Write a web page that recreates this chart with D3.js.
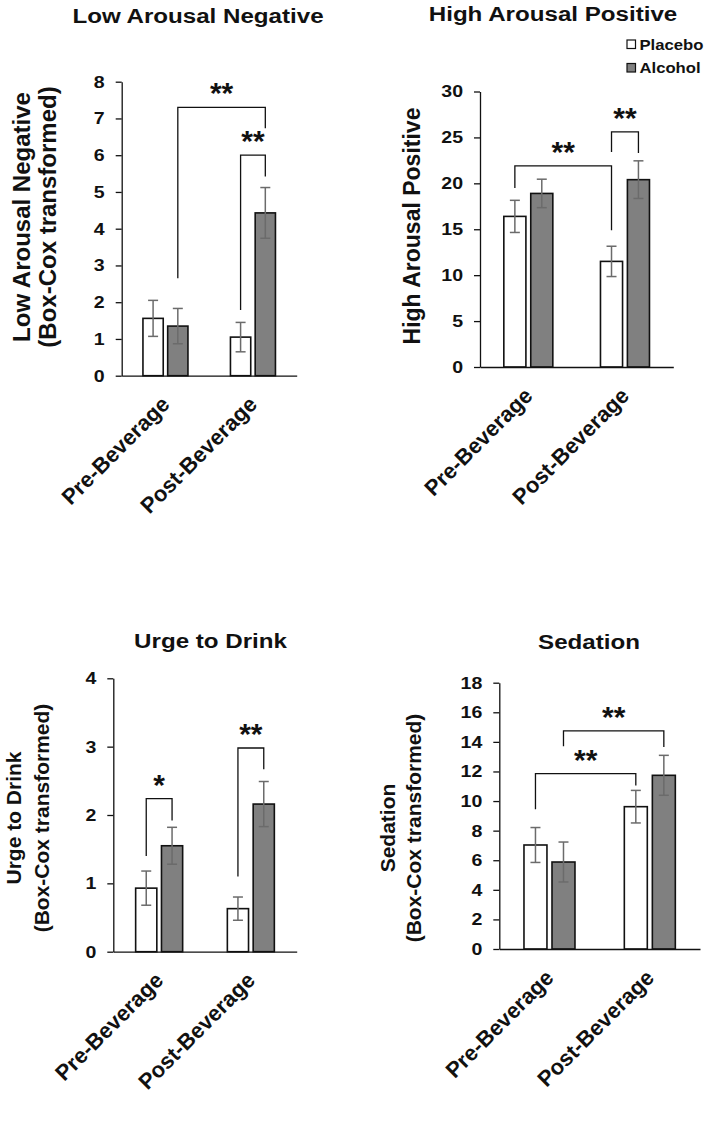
<!DOCTYPE html>
<html><head><meta charset="utf-8">
<script src="https://cdn.jsdelivr.net/npm/d3@7"></script>
<style>
body{margin:0;background:#fff;}
svg{display:block;font-family:"Liberation Sans",Arial,sans-serif;font-weight:bold;}
</style></head><body>
<svg id="chart" width="709" height="1147"></svg>
<script>
// ---------- DATA ----------
const categories = ["Pre-Beverage", "Post-Beverage"];
const conditions = ["Placebo", "Alcohol"];

// Low Arousal Negative (Box-Cox transformed)
const lanPlacebo = [1.56, 1.05];
const lanPlaceboErr = [0.49, 0.40];
const lanAlcohol = [1.35, 4.43];
const lanAlcoholErr = [0.48, 0.69];
const lanTicks = [0, 1, 2, 3, 4, 5, 6, 7, 8];
const lanSig = [
  {from: ["Pre-Beverage", "Alcohol"], to: ["Post-Beverage", "Alcohol"], top: 7.3, left: 2.65, right: 6.73, label: "**"},
  {from: ["Post-Beverage", "Placebo"], to: ["Post-Beverage", "Alcohol"], top: 6.0, left: 1.79, right: 5.42, label: "**"}
];

// High Arousal Positive
const hapPlacebo = [16.4, 11.5];
const hapPlaceboErr = [1.75, 1.65];
const hapAlcohol = [18.9, 20.4];
const hapAlcoholErr = [1.55, 2.05];
const hapTicks = [0, 5, 10, 15, 20, 25, 30];
const hapSig = [
  {from: ["Pre-Beverage", "Placebo"], to: ["Post-Beverage", "Placebo"], top: 21.9, left: 19.5, right: 14.9, label: "**"},
  {from: ["Post-Beverage", "Placebo"], to: ["Post-Beverage", "Alcohol"], top: 25.6, left: 23.4, right: 23.3, label: "**"}
];

// Urge to Drink (Box-Cox transformed)
const urgePlacebo = [0.93, 0.63];
const urgePlaceboErr = [0.25, 0.17];
const urgeAlcohol = [1.55, 2.16];
const urgeAlcoholErr = [0.27, 0.33];
const urgeTicks = [0, 1, 2, 3, 4];
const urgeSig = [
  {from: ["Pre-Beverage", "Placebo"], to: ["Pre-Beverage", "Alcohol"], top: 2.24, left: 1.40, right: 1.92, label: "*"},
  {from: ["Post-Beverage", "Placebo"], to: ["Post-Beverage", "Alcohol"], top: 2.98, left: 1.10, right: 2.67, label: "**"}
];

// Sedation (Box-Cox transformed)
const sedPlacebo = [7.03, 9.62];
const sedPlaceboErr = [1.18, 1.10];
const sedAlcohol = [5.88, 11.74];
const sedAlcoholErr = [1.35, 1.35];
const sedTicks = [0, 2, 4, 6, 8, 10, 12, 14, 16, 18];
const sedSig = [
  {from: ["Pre-Beverage", "Placebo"], to: ["Post-Beverage", "Placebo"], top: 11.85, left: 9.45, right: 11.05, label: "**"},
  {from: ["Pre-Beverage", "Alcohol"], to: ["Post-Beverage", "Alcohol"], top: 14.74, left: 13.7, right: 13.65, label: "**"}
];

const legendLabels = ["Placebo", "Alcohol"];
const colors = {Placebo: "#ffffff", Alcohol: "#808080"};

// ---------- LAYOUT ----------
const SX = 1.15; // horizontal stretch of upright text, as in the reference
const panels = [
  {title: "Low Arousal Negative", yTitle: ["Low Arousal Negative", "(Box-Cox transformed)"],
   placebo: lanPlacebo, placeboErr: lanPlaceboErr, alcohol: lanAlcohol, alcoholErr: lanAlcoholErr,
   ticks: lanTicks, sig: lanSig,
   ax: 121.7, ar: 296.7, yTop: 81.7, yBot: 375.7, cw: 45, titleX: 198, titleY: 23,
   ytX: [29.5, 56], ytY: 217, ytF: 24},
  {title: "High Arousal Positive", yTitle: ["High Arousal Positive"],
   placebo: hapPlacebo, placeboErr: hapPlaceboErr, alcohol: hapAlcohol, alcoholErr: hapAlcoholErr,
   ticks: hapTicks, sig: hapSig,
   ax: 480, ar: 673.3, yTop: 91.5, yBot: 367, cw: 49, titleX: 553, titleY: 21,
   ytX: [420], ytY: 226, ytF: 23, legend: true},
  {title: "Urge to Drink", yTitle: ["Urge to Drink", "(Box-Cox transformed)"],
   placebo: urgePlacebo, placeboErr: urgePlaceboErr, alcohol: urgeAlcohol, alcoholErr: urgeAlcoholErr,
   ticks: urgeTicks, sig: urgeSig,
   ax: 113.3, ar: 296.7, yTop: 678.3, yBot: 951.7, cw: 47, titleX: 210.5, titleY: 648,
   ytX: [21, 49], ytY: 818, ytF: 21},
  {title: "Sedation", yTitle: ["Sedation", "(Box-Cox transformed)"],
   placebo: sedPlacebo, placeboErr: sedPlaceboErr, alcohol: sedAlcohol, alcoholErr: sedAlcoholErr,
   ticks: sedTicks, sig: sedSig,
   ax: 499.3, ar: 700, yTop: 682.7, yBot: 949, cw: 51, titleX: 589, titleY: 649,
   ytX: [395, 420.5], ytY: 828, ytF: 21}
];

const svg = d3.select("#chart");
const FONT = "Liberation Sans, Arial, sans-serif";

panels.forEach(p => {
  const g = svg.append("g");
  const x0 = d3.scalePoint().domain(categories).range([p.ax, p.ar]).padding(0.5);
  const x1 = d3.scaleBand().domain(conditions).range([-p.cw / 2, p.cw / 2]).paddingInner(0.18);
  const y = d3.scaleLinear().domain([p.ticks[0], p.ticks[p.ticks.length - 1]]).range([p.yBot, p.yTop]);

  const rows = [];
  categories.forEach((c, i) => {
    rows.push({cat: c, cond: "Placebo", v: p.placebo[i], e: p.placeboErr[i]});
    rows.push({cat: c, cond: "Alcohol", v: p.alcohol[i], e: p.alcoholErr[i]});
  });
  const cx = (cat, cond) => x0(cat) + x1(cond) + x1.bandwidth() / 2;

  // bars
  g.selectAll("rect.bar").data(rows).join("rect").attr("class", "bar")
    .attr("x", d => x0(d.cat) + x1(d.cond))
    .attr("width", x1.bandwidth())
    .attr("y", d => y(d.v))
    .attr("height", d => y(0) - y(d.v))
    .attr("fill", d => colors[d.cond])
    .attr("stroke", "#111").attr("stroke-width", 1.6);

  // error bars
  const eb = g.selectAll("g.err").data(rows).join("g").attr("class", "err")
    .attr("stroke", "#6b6b6b").attr("stroke-width", 1.5);
  eb.append("line").attr("x1", d => cx(d.cat, d.cond)).attr("x2", d => cx(d.cat, d.cond))
    .attr("y1", d => y(d.v - d.e)).attr("y2", d => y(d.v + d.e));
  eb.append("line").attr("x1", d => cx(d.cat, d.cond) - 5).attr("x2", d => cx(d.cat, d.cond) + 5)
    .attr("y1", d => y(d.v + d.e)).attr("y2", d => y(d.v + d.e));
  eb.append("line").attr("x1", d => cx(d.cat, d.cond) - 5).attr("x2", d => cx(d.cat, d.cond) + 5)
    .attr("y1", d => y(d.v - d.e)).attr("y2", d => y(d.v - d.e));

  // y axis
  const ya = g.append("g").attr("transform", `translate(${p.ax},0)`)
    .call(d3.axisLeft(y).tickValues(p.ticks).tickSize(6).tickSizeOuter(0).tickPadding(12).tickFormat(d3.format("d")));
  ya.attr("font-size", null).attr("font-family", null);
  ya.select(".domain").attr("stroke", "#111").attr("stroke-width", 1.3);
  ya.selectAll(".tick line").attr("stroke", "#111").attr("stroke-width", 1.3);
  ya.selectAll(".tick text").attr("font-family", FONT).attr("font-weight", "bold").attr("font-size", 17)
    .style("font-size", "17px").attr("fill", "#111")
    .attr("x", -17 / SX).attr("transform", `scale(${SX},1)`);

  // x axis
  const xa = g.append("g").attr("transform", `translate(0,${p.yBot})`)
    .call(d3.axisBottom(x0).tickSize(0).tickSizeOuter(0).tickPadding(0));
  xa.attr("font-size", null).attr("font-family", null);
  xa.select(".domain").attr("stroke", "#111").attr("stroke-width", 1.3);
  xa.selectAll(".tick text")
    .attr("font-family", FONT).attr("font-weight", "bold").attr("font-size", 22)
    .style("font-size", "22px").attr("fill", "#111")
    .attr("text-anchor", "end").attr("dy", null).attr("y", null)
    .attr("transform", "translate(5,30) rotate(-45)");

  // significance brackets
  p.sig.forEach(s => {
    const xa1 = cx(s.from[0], s.from[1]);
    const xa2 = cx(s.to[0], s.to[1]);
    g.append("path")
      .attr("d", `M${xa1},${y(s.left)}V${y(s.top)}H${xa2}V${y(s.right)}`)
      .attr("fill", "none").attr("stroke", "#111").attr("stroke-width", 1.3);
    g.append("text").attr("x", (xa1 + xa2) / 2).attr("y", y(s.top) - 4)
      .attr("text-anchor", "middle").attr("font-size", 30).attr("fill", "#111").text(s.label);
  });

  // titles
  g.append("text").attr("transform", `translate(${p.titleX},${p.titleY}) scale(${SX},1)`)
    .attr("text-anchor", "middle").attr("font-size", 21).attr("fill", "#111").text(p.title);
  p.yTitle.forEach((t, i) => {
    g.append("text").attr("transform", `translate(${p.ytX[i]},${p.ytY}) rotate(-90)`)
      .attr("text-anchor", "middle").attr("font-size", p.ytF).attr("fill", "#111").text(t);
  });

  if (p.legend) {
    const lg = g.append("g");
    legendLabels.forEach((l, i) => {
      lg.append("rect").attr("x", 627).attr("y", 40 + i * 23.5).attr("width", 8.5).attr("height", 8.5)
        .attr("fill", colors[l]).attr("stroke", "#111").attr("stroke-width", 1.2);
      lg.append("text").attr("transform", `translate(639.5,${49.5 + i * 23.5}) scale(${SX},1)`)
        .attr("font-size", 14.5).attr("fill", "#111").text(l);
    });
  }
});
</script>
</body></html>
